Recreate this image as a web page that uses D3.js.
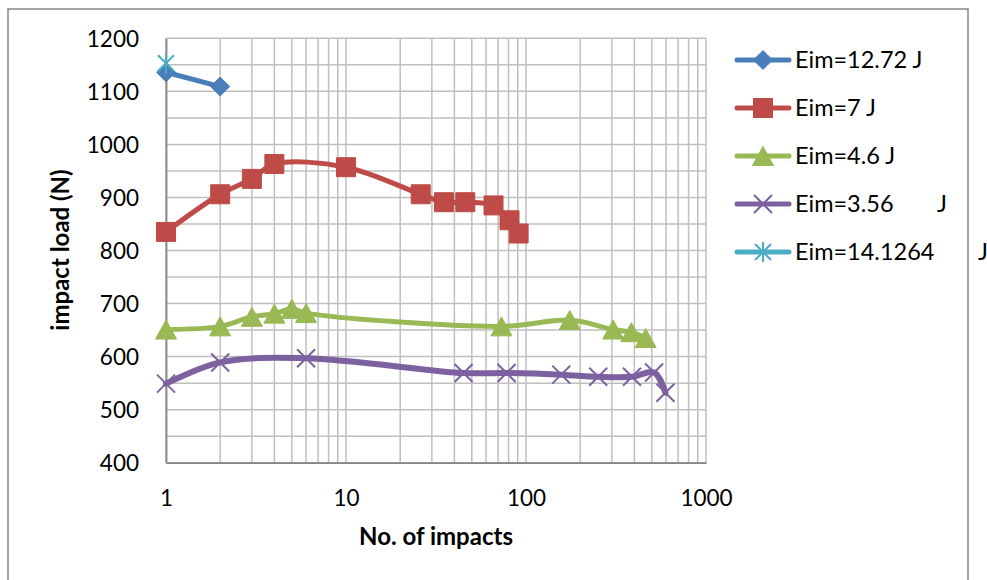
<!DOCTYPE html>
<html>
<head>
<meta charset="utf-8">
<script src="https://cdn.jsdelivr.net/npm/d3@7"></script>
<style>
  body { margin: 0; background: #fff; }
  svg { display: block; font-family: Lato, "Open Sans", sans-serif; }
</style>
</head>
<body>
<svg id="chart" width="987" height="580"></svg>
<script>
// data
const xTicks = [1, 10, 100, 1000];
const yTicks = [400, 500, 600, 700, 800, 900, 1000, 1100, 1200];

const seriesNames = ['Eim=12.72 J', 'Eim=7 J', 'Eim=4.6 J', 'Eim=3.56', 'Eim=14.1264'];

const impactsE1272 = [1, 2];
const loadE1272 = [1136, 1109];

const impactsE7 = [1, 2, 3, 4, 10, 26, 35, 46, 66, 81, 91];
const loadE7 = [835, 906, 935, 963, 957, 906, 891, 891, 885, 857, 832];

const impactsE46 = [1, 2, 3, 4, 5, 6, 73, 175, 305, 385, 462];
const loadE46 = [651, 657, 675, 681, 690, 682, 657, 669, 651, 646, 635];

const impactsE356 = [1, 2, 6, 45, 78, 157, 252, 388, 515, 595];
const loadE356 = [549, 589, 597, 569, 569, 566, 562, 562, 570, 532];

const impactsE141264 = [1];
const loadE141264 = [1153];

// layout
const margin = { top: 38.3, left: 166, right: 281, bottom: 117.3 };
const width = 987, height = 580;
const plotW = width - margin.left - margin.right;   // 540
const plotH = height - margin.top - margin.bottom;  // ~424

const colors = ['#4a7ebb', '#be4b48', '#98b954', '#7d60a0', '#4bacc6'];
const markers = ['diamond', 'square', 'triangle', 'x', 'star'];

const svg = d3.select('#chart');

// outer chart frame (bottom edge runs past the picture)
svg.append('rect')
  .attr('x', 8).attr('y', 9).attr('width', 960).attr('height', 600)
  .attr('fill', 'none').attr('stroke', '#868686').attr('stroke-width', 1.5);

const xScale = d3.scaleLog().domain([1, 1000]).range([0, plotW]);
const yScale = d3.scaleLinear().domain([400, 1200]).range([plotH, 0]);

const g = svg.append('g').attr('transform', `translate(${margin.left}, ${margin.top})`);

// gridlines
const minorX = [];
for (let d = 1; d < 1000; d *= 10) for (let k = 1; k < 10; k++) minorX.push(d * k);
minorX.push(1000);
const gridY = d3.range(400, 1201, 50);

g.append('g').selectAll('line').data(minorX).enter().append('line')
  .attr('x1', d => xScale(d)).attr('x2', d => xScale(d))
  .attr('y1', 0).attr('y2', plotH)
  .attr('stroke', '#bfbfbf').attr('stroke-width', 1.5);

g.append('g').selectAll('line').data(gridY).enter().append('line')
  .attr('x1', 0).attr('x2', plotW)
  .attr('y1', d => yScale(d)).attr('y2', d => yScale(d))
  .attr('stroke', '#bfbfbf').attr('stroke-width', 1.5);

// axes
const xAxis = d3.axisBottom(xScale).tickValues(xTicks).tickFormat(d3.format('d')).tickSize(0).tickPadding(27);
const yAxis = d3.axisLeft(yScale).tickValues(yTicks).tickFormat(d3.format('d')).tickSize(0).tickPadding(27);

const gx = g.append('g').attr('transform', `translate(0, ${plotH})`).call(xAxis);
const gy = g.append('g').call(yAxis);
[gx, gy].forEach(a => {
  a.select('.domain').attr('stroke', '#868686').attr('stroke-width', 1.8);
  a.selectAll('text').attr('font-size', 22.5).attr('fill', '#000').attr('font-family', 'Lato, sans-serif');
});
gy.selectAll('text').attr('dy', '0.36em');

// axis titles
svg.append('text')
  .attr('x', 436).attr('y', 545)
  .attr('text-anchor', 'middle').attr('font-size', 24).attr('font-weight', 'bold')
  .text('No. of impacts');
svg.append('text')
  .attr('transform', 'translate(69, 250) rotate(-90)')
  .attr('text-anchor', 'middle').attr('font-size', 24).attr('font-weight', 'bold')
  .text('impact load (N)');

// marker shapes
function markerPath(type) {
  switch (type) {
    case 'diamond': return 'M0,-9.5L9.5,0L0,9.5L-9.5,0Z';
    case 'square': return 'M-9.5,-9.5H9.5V9.5H-9.5Z';
    case 'triangle': return 'M0,-9.5L10.5,9.5L-10.5,9.5Z';
    case 'x': return 'M-9,-9L9,9M-9,9L9,-9';
    case 'star': return 'M-8,-8L8,8M-8,8L8,-8M0,-10V10';
  }
}
function drawMarker(sel, type, color) {
  const stroked = type === 'x' || type === 'star';
  sel.attr('d', markerPath(type))
    .attr('fill', stroked ? 'none' : color)
    .attr('stroke', color)
    .attr('stroke-width', stroked ? 2 : 1);
}

const series = [
  { n: impactsE1272, v: loadE1272 },
  { n: impactsE7, v: loadE7 },
  { n: impactsE46, v: loadE46 },
  { n: impactsE356, v: loadE356 },
  { n: impactsE141264, v: loadE141264 }
].map((s, i) => ({
  name: seriesNames[i], color: colors[i], marker: markers[i],
  points: s.n.map((n, j) => ({ n, v: s.v[j] }))
}));

const line = d3.line()
  .x(d => xScale(d.n)).y(d => yScale(d.v))
  .curve(d3.curveCatmullRom.alpha(0.5));

series.forEach((s, i) => {
  const sg = g.append('g');
  if (s.points.length > 1) {
    sg.append('path').datum(s.points)
      .attr('d', line).attr('fill', 'none')
      .attr('stroke', s.color).attr('stroke-width', i === 3 ? 6 : 5)
      .attr('stroke-linejoin', 'round').attr('stroke-linecap', 'round');
  }
  sg.selectAll('path.mk').data(s.points).enter().append('path')
    .attr('class', 'mk')
    .attr('transform', d => `translate(${xScale(d.n)}, ${yScale(d.v)})`)
    .call(drawMarker, s.marker, s.color);
});

// legend
const legendY = [60, 108, 156, 204, 252];
const trailingJ = { 3: 937, 4: 978 };
const lg = svg.append('g');
series.forEach((s, i) => {
  const y = legendY[i];
  lg.append('line')
    .attr('x1', 737).attr('x2', 789).attr('y1', y).attr('y2', y)
    .attr('stroke', s.color).attr('stroke-width', 5).attr('stroke-linecap', 'round');
  lg.append('path')
    .attr('transform', `translate(763, ${y})`)
    .call(drawMarker, s.marker, s.color);
  lg.append('text')
    .attr('x', 795).attr('y', y + 8)
    .attr('font-size', 23.5)
    .text(s.name);
  if (trailingJ[i]) {
    lg.append('text').attr('x', trailingJ[i]).attr('y', y + 8).attr('font-size', 23.5).text('J');
  }
});
</script>
</body>
</html>
